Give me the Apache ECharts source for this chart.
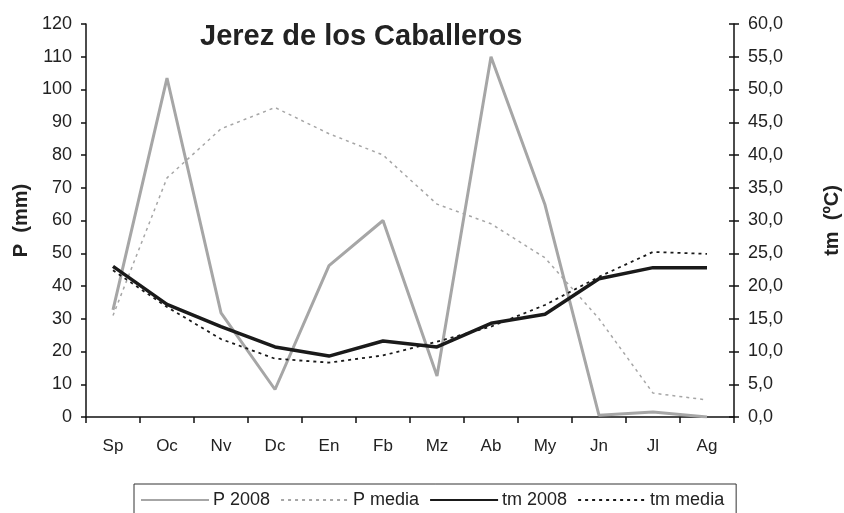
<!DOCTYPE html>
<html>
<head>
<meta charset="utf-8">
<script src="https://cdn.jsdelivr.net/npm/echarts@6/dist/echarts.min.js"></script>
<style>
  html, body { margin: 0; padding: 0; background: #fff; }
  #chart { width: 844px; height: 513px; }
</style>
</head>
<body>
<div id="chart"></div>
<script>
// Monthly values, hydrological year Sep -> Aug
const months = ['Sp', 'Oc', 'Nv', 'Dc', 'En', 'Fb', 'Mz', 'Ab', 'My', 'Jn', 'Jl', 'Ag'];
const p2008 = [32.7, 103.5, 31.8, 8.4, 46.2, 60, 12.5, 110, 64.8, 0.5, 1.5, 0];
const pMedia = [31, 73, 88, 94.5, 86.5, 80, 65, 59, 48.6, 30, 7.3, 5.2];
const tm2008 = [23, 17.2, 13.8, 10.7, 9.3, 11.6, 10.7, 14.3, 15.7, 21.1, 22.8, 22.8];
const tmMedia = [22.4, 16.8, 11.9, 8.9, 8.3, 9.4, 11.5, 13.8, 17.1, 21.4, 25.2, 24.9];

const FONT = '"Liberation Sans", Arial, sans-serif';
const TXT = '#222';

const chart = echarts.init(document.getElementById('chart'), null, { renderer: 'canvas' });

const fmt = (v) => v.toFixed(1).replace('.', ',');

chart.setOption({
  animation: false,
  backgroundColor: '#fff',
  textStyle: { fontFamily: FONT, color: TXT },
  title: {
    text: 'Jerez de los Caballeros',
    left: 200,
    top: 22,
    padding: 0,
    textStyle: { fontFamily: FONT, fontSize: 29, fontWeight: 'bold', color: TXT },
  },
  // outerBoundsMode off: keep the plot box where it is, names sit outside it
  grid: { left: 86, right: 110, top: 24, bottom: 96, containLabel: false, outerBoundsMode: 'none' },
  legend: {
    left: 134,
    top: 484,
    itemWidth: 68,
    itemHeight: 12,
    itemGap: 10,
    padding: [7, 12, 12, 6],
    borderColor: '#333',
    borderWidth: 1,
    itemStyle: { opacity: 0 },
    textStyle: { fontFamily: FONT, fontSize: 18, color: TXT, padding: [0, 0, 0, -1] },
    data: ['P 2008', 'P media', 'tm 2008', 'tm media'],
  },
  xAxis: {
    type: 'category',
    data: months,
    boundaryGap: true,
    axisLine: { lineStyle: { color: '#111', width: 1.5 } },
    axisTick: { show: true, length: 6, lineStyle: { color: '#111', width: 1.5 } },
    axisLabel: { fontFamily: FONT, fontSize: 17, color: TXT, margin: 21 },
    splitLine: { show: false },
  },
  yAxis: [
    {
      type: 'value',
      min: 0,
      max: 120,
      interval: 10,
      name: 'P  (mm)',
      nameLocation: 'middle',
      nameGap: 64,
      nameRotate: 90,
      nameTextStyle: { fontFamily: FONT, fontSize: 20, fontWeight: 'bold', color: TXT, verticalAlign: 'middle' },
      axisLine: { show: true, lineStyle: { color: '#111', width: 1.5 } },
      axisTick: { show: true, length: 5, lineStyle: { color: '#111', width: 1.5 } },
      axisLabel: { fontFamily: FONT, fontSize: 18, color: TXT, margin: 14 },
      splitLine: { show: false },
    },
    {
      type: 'value',
      position: 'right',
      min: 0,
      max: 60,
      interval: 5,
      name: 'tm  (ºC)',
      nameLocation: 'middle',
      nameGap: 98,
      nameRotate: 90,
      nameTextStyle: { fontFamily: FONT, fontSize: 20, fontWeight: 'bold', color: TXT, verticalAlign: 'middle' },
      axisLine: { show: true, lineStyle: { color: '#111', width: 1.5 } },
      axisTick: { show: true, length: 5, lineStyle: { color: '#111', width: 1.5 } },
      axisLabel: { fontFamily: FONT, fontSize: 18, color: TXT, margin: 14, formatter: fmt },
      splitLine: { show: false },
    },
    {
      // inner half of the crossing ticks on the right axis
      type: 'value',
      position: 'right',
      min: 0,
      max: 60,
      interval: 5,
      axisLine: { show: false },
      axisTick: { show: true, inside: true, length: 5, lineStyle: { color: '#111', width: 1.5 } },
      axisLabel: { show: false },
      splitLine: { show: false },
    },
  ],
  series: [
    {
      name: 'P 2008',
      type: 'line',
      yAxisIndex: 0,
      data: p2008,
      symbol: 'none',
      color: '#a6a6a6',
      lineStyle: { color: '#a6a6a6', width: 3 },
      z: 2,
    },
    {
      name: 'P media',
      type: 'line',
      yAxisIndex: 0,
      data: pMedia,
      symbol: 'none',
      color: '#a6a6a6',
      lineStyle: { color: '#a6a6a6', width: 1.5, type: [3, 4] },
      z: 2,
    },
    {
      name: 'tm 2008',
      type: 'line',
      yAxisIndex: 1,
      data: tm2008,
      symbol: 'none',
      color: '#1a1a1a',
      lineStyle: { color: '#1a1a1a', width: 3.5 },
      z: 4,
    },
    {
      name: 'tm media',
      type: 'line',
      yAxisIndex: 1,
      data: tmMedia,
      symbol: 'none',
      color: '#1a1a1a',
      lineStyle: { color: '#1a1a1a', width: 1.8, type: [3, 4] },
      z: 3,
    },
  ],
});
</script>
</body>
</html>
